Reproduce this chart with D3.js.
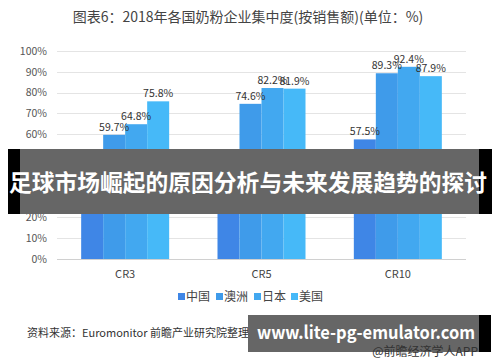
<!DOCTYPE html>
<html>
<head>
<meta charset="utf-8">
<script src="https://cdn.jsdelivr.net/npm/d3@7"></script>
<style>
  body { margin: 0; background: #fff; }
  svg text { font-family: "Noto Sans CJK SC", "Noto Sans", sans-serif; }
</style>
</head>
<body>
<div id="chart"></div>
<script>
// data
var groups = ["CR3", "CR5", "CR10"];
var series = ["中国", "澳洲", "日本", "美国"];
var china = [26.0, 38.3, 57.5];
var australia = [59.7, 74.6, 89.3];
var japan = [64.8, 82.2, 92.4];
var usa = [75.8, 81.9, 87.9];
var yTicks = [0, 10, 20, 30, 40, 50, 60, 70, 80, 90, 100];
var colors = ["#3f86e6", "#3f9bea", "#42a8f0", "#46b9f8"];

var svgWidth = 500;
var svgHeight = 362;

var svg = d3.select("#chart").append("svg")
    .attr("width", svgWidth)
    .attr("height", svgHeight);

// title
svg.append("text")
    .attr("x", 248)
    .attr("y", 22)
    .attr("text-anchor", "middle")
    .attr("font-size", "14px")
    .attr("fill", "#444")
    .text("图表6：2018年各国奶粉企业集中度(按销售额)(单位：%)");

// scales
var xScale = d3.scaleBand().domain(groups).range([57, 466]);
var groupWidth = 88;
var xInner = d3.scaleBand().domain(series).range([0, groupWidth]);
var yScale = d3.scaleLinear().domain([0, 100]).range([259, 51]);

// gridlines
svg.append("g").selectAll("line")
    .data(yTicks)
    .enter()
    .append("line")
    .attr("x1", 57)
    .attr("x2", 466)
    .attr("y1", d => Math.round(yScale(d)) + 0.5)
    .attr("y2", d => Math.round(yScale(d)) + 0.5)
    .attr("stroke", d => d === 0 ? "#d0d0d0" : "#e4e4e4")
    .attr("stroke-width", 1);

// y axis labels
var yAxis = d3.axisLeft(yScale).tickValues(yTicks).tickFormat(d => d + "%").tickSize(0).tickPadding(10);
var yAxisG = svg.append("g")
    .attr("transform", "translate(57,0)")
    .call(yAxis);
yAxisG.select(".domain").remove();
yAxisG.selectAll("text")
    .attr("font-size", "10.5px")
    .attr("fill", "#555")
    .attr("font-family", "Noto Sans, sans-serif");

// x axis labels
var xAxis = d3.axisBottom(xScale).tickSize(0).tickPadding(11);
var xAxisG = svg.append("g")
    .attr("transform", "translate(0,259)")
    .call(xAxis);
xAxisG.select(".domain").remove();
xAxisG.selectAll("text")
    .attr("font-size", "11px")
    .attr("fill", "#444")
    .attr("font-family", "Noto Sans, sans-serif");

// bars
var table = groups.map(function(g, i) {
    return { group: g, values: [china[i], australia[i], japan[i], usa[i]] };
});

var groupG = svg.selectAll(".grp")
    .data(table)
    .enter()
    .append("g")
    .attr("transform", d => `translate(${xScale(d.group) + xScale.bandwidth() / 2 - groupWidth / 2},0)`);

groupG.selectAll("rect")
    .data(d => d.values.map((v, j) => ({ key: series[j], value: v, idx: j })))
    .enter()
    .append("rect")
    .attr("x", d => xInner(d.key))
    .attr("width", xInner.bandwidth())
    .attr("y", d => yScale(d.value))
    .attr("height", d => yScale(0) - yScale(d.value))
    .attr("fill", d => colors[d.idx]);

groupG.selectAll(".val")
    .data(d => d.values.map((v, j) => ({ key: series[j], value: v })))
    .enter()
    .append("text")
    .attr("x", d => xInner(d.key) + xInner.bandwidth() / 2)
    .attr("y", d => yScale(d.value) - 4)
    .attr("text-anchor", "middle")
    .attr("font-size", "10.5px")
    .attr("fill", "#333")
    .attr("font-family", "Noto Sans, sans-serif")
    .text(d => d.value.toFixed(1) + "%");

// legend
var legendX = [178, 216, 254, 291];
var legend = svg.selectAll(".leg")
    .data(series)
    .enter()
    .append("g")
    .attr("transform", (d, i) => `translate(${legendX[i]},297)`);
legend.append("rect")
    .attr("x", 0)
    .attr("y", -4)
    .attr("width", 7)
    .attr("height", 7)
    .attr("fill", (d, i) => colors[i]);
legend.append("text")
    .attr("x", 8)
    .attr("y", 4)
    .attr("font-size", "12px")
    .attr("fill", "#444")
    .text(d => d);

// source
svg.append("text")
    .attr("x", 27)
    .attr("y", 337)
    .attr("font-size", "11px")
    .attr("fill", "#333")
    .text("资料来源：Euromonitor 前瞻产业研究院整理");

// banner overlay
svg.append("rect").attr("x", 8).attr("y", 149).attr("width", 484).attr("height", 65).attr("fill", "#000");
svg.append("rect").attr("x", 20).attr("y", 149).attr("width", 459).attr("height", 65).attr("fill", "#fff").attr("opacity", 0.4);
svg.append("text")
    .attr("x", 9)
    .attr("y", 191)
    .attr("font-size", "23px")
    .attr("font-weight", "bold")
    .attr("fill", "#fff")
    .attr("textLength", 478)
    .attr("lengthAdjust", "spacingAndGlyphs")
    .text("足球市场崛起的原因分析与未来发展趋势的探讨");

// bottom watermark
svg.append("rect").attr("x", 248).attr("y", 315).attr("width", 243).attr("height", 37).attr("fill", "#000");
svg.append("rect").attr("x", 248).attr("y", 315).attr("width", 231).attr("height", 37).attr("fill", "#fff").attr("opacity", 0.4);
svg.append("text")
    .attr("x", 257)
    .attr("y", 339)
    .attr("font-size", "18px")
    .attr("font-weight", "bold")
    .attr("font-family", "DejaVu Sans, sans-serif")
    .attr("fill", "#fff")
    .attr("textLength", 218)
    .attr("lengthAdjust", "spacingAndGlyphs")
    .text("www.lite-pg-emulator.com");
svg.append("text")
    .attr("x", 478)
    .attr("y", 356)
    .attr("text-anchor", "end")
    .attr("font-size", "12px")
    .attr("fill", "#333")
    .text("@前瞻经济学人APP");
</script>
</body>
</html>
